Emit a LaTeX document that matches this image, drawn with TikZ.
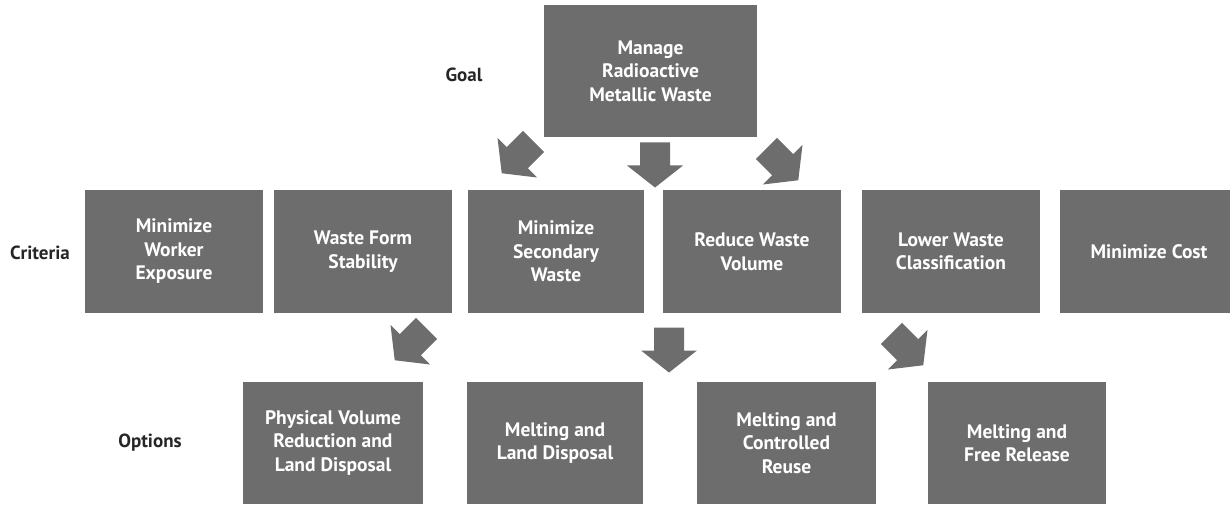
\documentclass[tikz,border=0pt]{standalone}
\usepackage{fontspec}
\setmainfont{PT Sans}
\usetikzlibrary{positioning}
\definecolor{boxgray}{HTML}{6D6D6D}
\tikzset{
  box/.style={fill=boxgray, text=white, align=center, inner sep=0pt,
    font=\bfseries\fontsize{19.5}{23.5}\selectfont,
    minimum width=178pt, minimum height=123pt},
  rowlabel/.style={text=black!85, font=\bfseries\fontsize{19}{22}\selectfont},
  blockarrow/.pic={\fill[boxgray] (-15,-22) -- (15,-22) -- (15,1) -- (28,1)
    -- (0,23) -- (-28,1) -- (-15,1) -- cycle;}
}

\begin{document}
\begin{tikzpicture}[x=1pt,y=-1pt]
		\useasboundingbox (0,0) rectangle (1230,505);
		
		% goal
		\node[box, minimum width=213pt, minimum height=132pt] (goal) at (650.5,71) {Manage\\Radioactive\\Metallic Waste};
		\node[rowlabel] (lgoal) at (464,75) {Goal};
		
		% criteria
		\node[box] (c1) at (174,251.5) {Minimize\\Worker\\Exposure};
		\node[box] (c2) at (363,251.5) {Waste Form\\Stability};
		\node[box, minimum width=176pt] (c3) at (556,251.5) {Minimize\\Secondary\\Waste};
		\node[box] (c4) at (752,251.5) {Reduce Waste\\Volume};
		\node[box] (c5) at (951,251.5) {Lower Waste\\Classification};
		\node[box] (c6) at (1149,251.5) {Minimize Cost};
		\node[rowlabel] (lcrit) at (40,253) {Criteria};
		
		% options
		\node[box, minimum width=180pt, minimum height=122pt] (o1) at (333,443) {Physical Volume\\Reduction and\\Land Disposal};
		\node[box, minimum width=176pt, minimum height=122pt] (o2) at (555,443) {Melting and\\Land Disposal};
		\node[box, minimum width=179pt, minimum height=122pt] (o3) at (786.5,443) {Melting and\\Controlled\\Reuse};
		\node[box, minimum height=122pt] (o4) at (1017,443) {Melting and\\Free Release};
		\node[rowlabel] (lopt) at (150,443) {Options};
		
		% arrows
		\coordinate (ga) at (518,157);
		\coordinate (gb) at (655,164.5);
		\coordinate (gc) at (782,164);
		\coordinate (ca) at (411,344);
		\coordinate (cb) at (669,349.5);
		\coordinate (cc) at (907,349);
		\pic[rotate=-45] at (ga) {blockarrow};
		\pic at (gb) {blockarrow};
		\pic[rotate=45] at (gc) {blockarrow};
		\pic[rotate=-45] at (ca) {blockarrow};
		\pic at (cb) {blockarrow};
		\pic[rotate=45] at (cc) {blockarrow};
\end{tikzpicture}
\end{document}
